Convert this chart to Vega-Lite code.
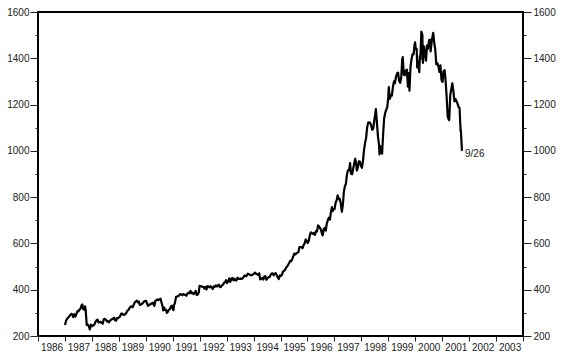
{
  "$schema": "https://vega.github.io/schema/vega-lite/v6.json",
  "width": 485,
  "height": 324,
  "autosize": {"type": "none"},
  "padding": {"left": 38, "top": 12, "right": 42, "bottom": 18},
  "background": "white",
  "config": {
    "view": {"stroke": "black", "strokeWidth": 2},
    "font": "Liberation Sans",
    "axis": {"labelFont": "Liberation Sans", "labelFontSize": 10, "labelColor": "#222", "tickColor": "#222", "domain": false, "grid": false, "title": null}
  },
  "data": {"values": [
    {"date":"1987-01-02","close":248},{"date":"1987-01-16","close":266},{"date":"1987-01-30","close":274},{"date":"1987-02-13","close":279},{"date":"1987-02-27","close":284},{"date":"1987-03-13","close":290},{"date":"1987-03-27","close":296},{"date":"1987-04-10","close":293},{"date":"1987-04-24","close":282},{"date":"1987-05-08","close":294},{"date":"1987-05-22","close":284},{"date":"1987-06-05","close":294},{"date":"1987-06-19","close":307},{"date":"1987-07-03","close":306},{"date":"1987-07-17","close":314},{"date":"1987-07-31","close":318},{"date":"1987-08-14","close":333},{"date":"1987-08-25","close":336},{"date":"1987-09-04","close":317},{"date":"1987-09-18","close":314},{"date":"1987-10-02","close":328},{"date":"1987-10-09","close":311},{"date":"1987-10-16","close":283},{"date":"1987-10-23","close":248},{"date":"1987-11-06","close":250},{"date":"1987-11-20","close":242},{"date":"1987-12-04","close":228},{"date":"1987-12-18","close":249},{"date":"1987-12-31","close":247},
    {"date":"1988-01-08","close":243},{"date":"1988-01-22","close":246},{"date":"1988-02-05","close":250},{"date":"1988-02-19","close":261},{"date":"1988-03-04","close":268},{"date":"1988-03-18","close":271},{"date":"1988-04-01","close":258},{"date":"1988-04-15","close":260},{"date":"1988-04-29","close":261},{"date":"1988-05-13","close":257},{"date":"1988-05-27","close":253},{"date":"1988-06-10","close":272},{"date":"1988-06-24","close":274},{"date":"1988-07-08","close":271},{"date":"1988-07-22","close":263},{"date":"1988-08-05","close":265},{"date":"1988-08-19","close":259},{"date":"1988-09-02","close":265},{"date":"1988-09-16","close":270},{"date":"1988-09-30","close":272},{"date":"1988-10-14","close":275},{"date":"1988-10-28","close":279},{"date":"1988-11-11","close":268},{"date":"1988-11-25","close":266},{"date":"1988-12-09","close":278},{"date":"1988-12-23","close":277},
    {"date":"1989-01-06","close":281},{"date":"1989-01-20","close":287},{"date":"1989-02-03","close":297},{"date":"1989-02-17","close":297},{"date":"1989-03-03","close":291},{"date":"1989-03-17","close":292},{"date":"1989-03-31","close":295},{"date":"1989-04-14","close":301},{"date":"1989-04-28","close":310},{"date":"1989-05-12","close":313},{"date":"1989-05-26","close":321},{"date":"1989-06-09","close":327},{"date":"1989-06-23","close":328},{"date":"1989-07-07","close":324},{"date":"1989-07-21","close":335},{"date":"1989-08-04","close":345},{"date":"1989-08-18","close":349},{"date":"1989-09-01","close":353},{"date":"1989-09-15","close":345},{"date":"1989-09-29","close":349},{"date":"1989-10-13","close":334},{"date":"1989-10-27","close":336},{"date":"1989-11-10","close":339},{"date":"1989-11-24","close":343},{"date":"1989-12-08","close":349},{"date":"1989-12-22","close":351},
    {"date":"1990-01-05","close":352},{"date":"1990-01-19","close":339},{"date":"1990-02-02","close":330},{"date":"1990-02-16","close":336},{"date":"1990-03-02","close":336},{"date":"1990-03-16","close":341},{"date":"1990-03-30","close":340},{"date":"1990-04-13","close":344},{"date":"1990-04-27","close":330},{"date":"1990-05-11","close":352},{"date":"1990-05-25","close":354},{"date":"1990-06-08","close":358},{"date":"1990-06-22","close":355},{"date":"1990-07-06","close":358},{"date":"1990-07-20","close":361},{"date":"1990-08-03","close":344},{"date":"1990-08-17","close":328},{"date":"1990-08-24","close":311},{"date":"1990-09-07","close":323},{"date":"1990-09-21","close":312},{"date":"1990-10-05","close":312},{"date":"1990-10-12","close":300},{"date":"1990-10-26","close":304},{"date":"1990-11-09","close":313},{"date":"1990-11-23","close":316},{"date":"1990-12-07","close":327},{"date":"1990-12-21","close":331},
    {"date":"1991-01-04","close":315},{"date":"1991-01-11","close":312},{"date":"1991-01-18","close":332},{"date":"1991-02-01","close":344},{"date":"1991-02-15","close":369},{"date":"1991-03-01","close":370},{"date":"1991-03-15","close":373},{"date":"1991-03-28","close":375},{"date":"1991-04-12","close":381},{"date":"1991-04-26","close":380},{"date":"1991-05-10","close":376},{"date":"1991-05-24","close":381},{"date":"1991-06-07","close":379},{"date":"1991-06-21","close":378},{"date":"1991-07-05","close":374},{"date":"1991-07-19","close":383},{"date":"1991-08-02","close":387},{"date":"1991-08-16","close":385},{"date":"1991-08-30","close":395},{"date":"1991-09-13","close":385},{"date":"1991-09-27","close":387},{"date":"1991-10-11","close":381},{"date":"1991-10-25","close":385},{"date":"1991-11-08","close":395},{"date":"1991-11-22","close":378},{"date":"1991-12-06","close":379},{"date":"1991-12-20","close":388},{"date":"1991-12-31","close":417},
    {"date":"1992-01-10","close":415},{"date":"1992-01-24","close":415},{"date":"1992-02-07","close":412},{"date":"1992-02-21","close":412},{"date":"1992-03-06","close":405},{"date":"1992-03-20","close":412},{"date":"1992-04-03","close":401},{"date":"1992-04-17","close":416},{"date":"1992-05-01","close":413},{"date":"1992-05-15","close":410},{"date":"1992-05-29","close":415},{"date":"1992-06-12","close":410},{"date":"1992-06-26","close":403},{"date":"1992-07-10","close":414},{"date":"1992-07-24","close":412},{"date":"1992-08-07","close":419},{"date":"1992-08-21","close":414},{"date":"1992-09-04","close":417},{"date":"1992-09-18","close":422},{"date":"1992-10-02","close":411},{"date":"1992-10-16","close":412},{"date":"1992-10-30","close":419},{"date":"1992-11-13","close":422},{"date":"1992-11-27","close":430},{"date":"1992-12-11","close":433},{"date":"1992-12-24","close":441},
    {"date":"1993-01-08","close":429},{"date":"1993-01-22","close":436},{"date":"1993-02-05","close":449},{"date":"1993-02-19","close":434},{"date":"1993-03-05","close":446},{"date":"1993-03-19","close":451},{"date":"1993-04-02","close":441},{"date":"1993-04-16","close":448},{"date":"1993-04-30","close":440},{"date":"1993-05-14","close":440},{"date":"1993-05-28","close":452},{"date":"1993-06-11","close":447},{"date":"1993-06-25","close":447},{"date":"1993-07-09","close":448},{"date":"1993-07-23","close":447},{"date":"1993-08-06","close":449},{"date":"1993-08-20","close":456},{"date":"1993-09-03","close":462},{"date":"1993-09-17","close":458},{"date":"1993-10-01","close":461},{"date":"1993-10-15","close":469},{"date":"1993-10-29","close":467},{"date":"1993-11-12","close":465},{"date":"1993-11-26","close":463},{"date":"1993-12-10","close":463},{"date":"1993-12-23","close":467},
    {"date":"1994-01-07","close":469},{"date":"1994-01-21","close":474},{"date":"1994-02-04","close":469},{"date":"1994-02-18","close":467},{"date":"1994-03-04","close":464},{"date":"1994-03-18","close":471},{"date":"1994-04-01","close":445},{"date":"1994-04-15","close":446},{"date":"1994-04-29","close":451},{"date":"1994-05-13","close":444},{"date":"1994-05-27","close":457},{"date":"1994-06-10","close":459},{"date":"1994-06-24","close":443},{"date":"1994-07-08","close":449},{"date":"1994-07-22","close":454},{"date":"1994-08-05","close":454},{"date":"1994-08-19","close":463},{"date":"1994-09-02","close":470},{"date":"1994-09-16","close":471},{"date":"1994-09-30","close":462},{"date":"1994-10-14","close":469},{"date":"1994-10-28","close":472},{"date":"1994-11-11","close":463},{"date":"1994-11-25","close":453},{"date":"1994-12-09","close":446},{"date":"1994-12-23","close":462},
    {"date":"1995-01-06","close":460},{"date":"1995-01-20","close":464},{"date":"1995-02-03","close":478},{"date":"1995-02-17","close":482},{"date":"1995-03-03","close":485},{"date":"1995-03-17","close":495},{"date":"1995-03-31","close":500},{"date":"1995-04-13","close":507},{"date":"1995-04-28","close":515},{"date":"1995-05-12","close":525},{"date":"1995-05-26","close":523},{"date":"1995-06-09","close":532},{"date":"1995-06-23","close":544},{"date":"1995-07-07","close":556},{"date":"1995-07-21","close":553},{"date":"1995-08-04","close":557},{"date":"1995-08-18","close":560},{"date":"1995-09-01","close":563},{"date":"1995-09-15","close":584},{"date":"1995-09-29","close":584},{"date":"1995-10-13","close":584},{"date":"1995-10-27","close":579},{"date":"1995-11-10","close":593},{"date":"1995-11-24","close":600},{"date":"1995-12-08","close":617},{"date":"1995-12-22","close":612},
    {"date":"1996-01-05","close":602},{"date":"1996-01-19","close":611},{"date":"1996-02-02","close":635},{"date":"1996-02-16","close":648},{"date":"1996-03-01","close":645},{"date":"1996-03-15","close":641},{"date":"1996-03-29","close":645},{"date":"1996-04-12","close":637},{"date":"1996-04-26","close":653},{"date":"1996-05-10","close":652},{"date":"1996-05-24","close":678},{"date":"1996-06-07","close":673},{"date":"1996-06-21","close":666},{"date":"1996-07-05","close":657},{"date":"1996-07-19","close":638},{"date":"1996-07-26","close":635},{"date":"1996-08-09","close":662},{"date":"1996-08-23","close":667},{"date":"1996-09-06","close":655},{"date":"1996-09-20","close":687},{"date":"1996-10-04","close":701},{"date":"1996-10-18","close":711},{"date":"1996-11-01","close":703},{"date":"1996-11-15","close":737},{"date":"1996-11-29","close":757},{"date":"1996-12-06","close":739},{"date":"1996-12-20","close":748},
    {"date":"1997-01-03","close":748},{"date":"1997-01-17","close":776},{"date":"1997-01-31","close":786},{"date":"1997-02-14","close":808},{"date":"1997-02-28","close":791},{"date":"1997-03-14","close":793},{"date":"1997-03-28","close":773},{"date":"1997-04-11","close":737},{"date":"1997-04-25","close":766},{"date":"1997-05-09","close":824},{"date":"1997-05-23","close":847},{"date":"1997-06-06","close":858},{"date":"1997-06-20","close":898},{"date":"1997-07-03","close":916},{"date":"1997-07-18","close":915},{"date":"1997-08-01","close":947},{"date":"1997-08-15","close":900},{"date":"1997-08-29","close":899},{"date":"1997-09-12","close":923},{"date":"1997-09-26","close":945},{"date":"1997-10-10","close":966},{"date":"1997-10-24","close":941},{"date":"1997-10-31","close":915},{"date":"1997-11-14","close":928},{"date":"1997-11-28","close":955},{"date":"1997-12-12","close":954},{"date":"1997-12-26","close":936},
    {"date":"1998-01-09","close":927},{"date":"1998-01-23","close":957},{"date":"1998-02-06","close":1003},{"date":"1998-02-20","close":1034},{"date":"1998-03-06","close":1055},{"date":"1998-03-20","close":1100},{"date":"1998-04-03","close":1122},{"date":"1998-04-17","close":1123},{"date":"1998-05-01","close":1121},{"date":"1998-05-15","close":1108},{"date":"1998-05-29","close":1091},{"date":"1998-06-12","close":1098},{"date":"1998-06-26","close":1133},{"date":"1998-07-10","close":1164},{"date":"1998-07-17","close":1180},{"date":"1998-07-31","close":1121},{"date":"1998-08-14","close":1062},{"date":"1998-08-28","close":1027},{"date":"1998-09-04","close":985},{"date":"1998-09-18","close":1020},{"date":"1998-10-02","close":1002},{"date":"1998-10-09","close":988},{"date":"1998-10-23","close":1071},{"date":"1998-11-06","close":1141},{"date":"1998-11-20","close":1164},{"date":"1998-12-04","close":1177},{"date":"1998-12-18","close":1189},{"date":"1998-12-31","close":1229},
    {"date":"1999-01-08","close":1275},{"date":"1999-01-22","close":1225},{"date":"1999-02-05","close":1240},{"date":"1999-02-19","close":1239},{"date":"1999-03-05","close":1276},{"date":"1999-03-19","close":1300},{"date":"1999-04-01","close":1293},{"date":"1999-04-16","close":1320},{"date":"1999-04-30","close":1335},{"date":"1999-05-14","close":1338},{"date":"1999-05-28","close":1302},{"date":"1999-06-11","close":1294},{"date":"1999-06-25","close":1316},{"date":"1999-07-09","close":1395},{"date":"1999-07-16","close":1405},{"date":"1999-07-30","close":1329},{"date":"1999-08-13","close":1327},{"date":"1999-08-27","close":1348},{"date":"1999-09-10","close":1351},{"date":"1999-09-24","close":1277},{"date":"1999-10-08","close":1336},{"date":"1999-10-15","close":1260},{"date":"1999-10-29","close":1362},{"date":"1999-11-12","close":1396},{"date":"1999-11-26","close":1417},{"date":"1999-12-10","close":1417},{"date":"1999-12-23","close":1458},{"date":"1999-12-31","close":1469},
    {"date":"2000-01-07","close":1441},{"date":"2000-01-21","close":1441},{"date":"2000-01-28","close":1360},{"date":"2000-02-11","close":1387},{"date":"2000-02-25","close":1340},{"date":"2000-03-03","close":1409},{"date":"2000-03-10","close":1395},{"date":"2000-03-24","close":1515},{"date":"2000-04-07","close":1500},{"date":"2000-04-14","close":1380},{"date":"2000-04-28","close":1452},{"date":"2000-05-12","close":1420},{"date":"2000-05-26","close":1390},{"date":"2000-06-09","close":1456},{"date":"2000-06-23","close":1441},{"date":"2000-07-07","close":1478},{"date":"2000-07-21","close":1481},{"date":"2000-07-28","close":1430},{"date":"2000-08-11","close":1471},{"date":"2000-08-25","close":1500},{"date":"2000-09-01","close":1510},{"date":"2000-09-15","close":1466},{"date":"2000-09-29","close":1437},{"date":"2000-10-13","close":1374},{"date":"2000-10-27","close":1379},{"date":"2000-11-10","close":1366},{"date":"2000-11-24","close":1341},{"date":"2000-12-08","close":1369},{"date":"2000-12-22","close":1306},
    {"date":"2001-01-05","close":1298},{"date":"2001-01-19","close":1343},{"date":"2001-02-02","close":1349},{"date":"2001-02-16","close":1302},{"date":"2001-03-02","close":1234},{"date":"2001-03-16","close":1151},{"date":"2001-03-23","close":1140},{"date":"2001-04-06","close":1133},{"date":"2001-04-20","close":1242},{"date":"2001-05-04","close":1267},{"date":"2001-05-18","close":1292},{"date":"2001-06-01","close":1260},{"date":"2001-06-15","close":1214},{"date":"2001-06-29","close":1224},{"date":"2001-07-13","close":1215},{"date":"2001-07-27","close":1205},{"date":"2001-08-10","close":1190},{"date":"2001-08-24","close":1185},{"date":"2001-09-07","close":1085},{"date":"2001-09-10","close":1092},{"date":"2001-09-26","close":1000,"label":"9/26"}
  ]},
  "resolve": {"axis": {"y": "independent"}},
  "layer": [
    {
      "mark": {"type": "line", "color": "black", "strokeWidth": 2.2, "strokeJoin": "round"},
      "encoding": {
        "x": {"field": "date", "type": "temporal", "scale": {"domain": ["1986-01-01", "2004-01-01"], "nice": false}, "axis": {
          "orient": "bottom", "tickCount": "year", "format": "%Y",
          "labelExpr": "year(datum.value) < 2004 ? datum.label : ''",
          "labelAlign": "center", "labelOffset": 13.5, "labelBaseline": "top",
          "tickSize": 5, "labelPadding": 1, "labelOverlap": false, "labelFlush": false, "labelBound": false
        }},
        "y": {"field": "close", "type": "quantitative", "scale": {"domain": [200, 1600], "nice": false, "zero": false}, "axis": {
          "orient": "left", "values": [200,300,400,500,600,700,800,900,1000,1100,1200,1300,1400,1500,1600],
          "labelExpr": "datum.value % 200 === 0 ? datum.label : ''",
          "tickSize": {"condition": {"test": "datum.value % 200 === 0", "value": 8}, "value": 3},
          "labelPadding": 1, "labelOverlap": false, "format": "d"
        }}
      }
    },
    {
      "transform": [{"filter": "isValid(datum.label)"}],
      "mark": {"type": "text", "align": "left", "baseline": "middle", "dx": 3, "dy": 3, "fontSize": 10, "font": "Liberation Sans", "color": "#222"},
      "encoding": {
        "x": {"field": "date", "type": "temporal"},
        "text": {"field": "label"},
        "y": {"field": "close", "type": "quantitative", "axis": {
          "orient": "right", "values": [200,300,400,500,600,700,800,900,1000,1100,1200,1300,1400,1500,1600],
          "labelExpr": "datum.value % 200 === 0 ? datum.label : ''",
          "tickSize": {"condition": {"test": "datum.value % 200 === 0", "value": 8}, "value": 3},
          "labelPadding": 2, "labelOverlap": false, "format": "d"
        }}
      }
    }
  ]
}
